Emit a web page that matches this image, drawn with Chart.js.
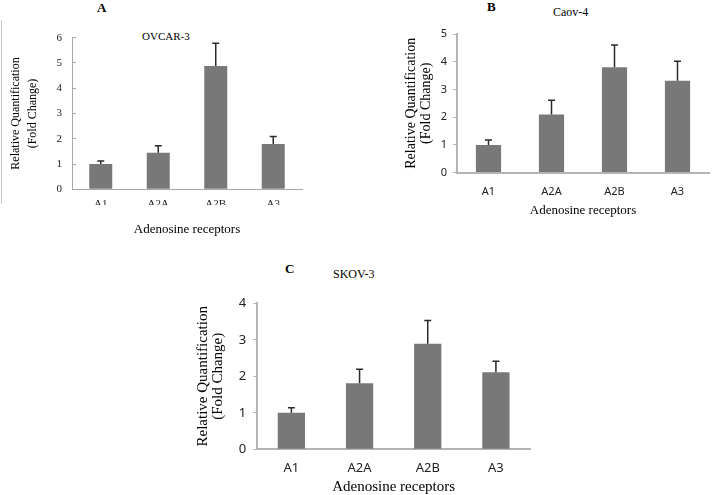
<!doctype html>
<html lang="en">
<head>
<meta charset="UTF-8" />
<title>Adenosine receptors expression</title>
<script src="https://cdn.jsdelivr.net/npm/chart.js"></script>
<style>
  body { margin: 0; background: #fff; width: 716px; height: 495px; position: relative; overflow: hidden; }
  canvas, .txt, .frame { position: absolute; }
  .txt { font-family: 'Liberation Serif', 'Times New Roman', serif; color: #000; white-space: nowrap; line-height: 1; }
  .letter { font-weight: bold; font-size: 13px; }
  .frame { left: 1px; top: 20px; height: 184px; border-left: 1px solid #c8c8c8; }
</style>
</head>
<body>
<div class="frame"></div>
<div class="txt letter" style="left:97px;top:1px">A</div>
<div class="txt letter" style="left:487px;top:0px">B</div>
<div class="txt letter" style="left:285px;top:262px">C</div>
<div class="txt" style="left:142px;top:31px;font-size:11px">OVCAR-3</div>
<div class="txt" style="left:553px;top:6px;font-size:12px">Caov-4</div>
<div class="txt" style="left:333px;top:268px;font-size:12px">SKOV-3</div>

<canvas id="chartA" width="320" height="245" style="left:0;top:0"></canvas>
<canvas id="chartB" width="356" height="225" style="left:360px;top:0"></canvas>
<canvas id="chartC" width="400" height="246" style="left:160px;top:250px"></canvas>

<script>
// data
const receptors = ['A1', 'A2A', 'A2B', 'A3']
const ovcarMeans = [1.0, 1.45, 4.88, 1.79]
const ovcarErrors = [0.12, 0.27, 0.9, 0.3]
const caovMeans = [0.99, 2.09, 3.8, 3.31]
const caovErrors = [0.18, 0.52, 0.8, 0.71]
const skovMeans = [1.0, 1.81, 2.89, 2.11]
const skovErrors = [0.14, 0.38, 0.64, 0.3]
const yTitle = ['Relative Quantification', '(Fold Change)']
const xTitle = 'Adenosine receptors'

const SERIF = "'Liberation Serif', 'Times New Roman', serif"
const SANS = "'Noto Sans', 'Liberation Sans', sans-serif"

// upper error bars with a cap
const errorBars = {
    id: 'errorBars',
    afterDatasetsDraw(chart) {
        const ctx = chart.ctx
        const y = chart.scales.y
        const ds = chart.data.datasets[0]
        ctx.save()
        ctx.strokeStyle = '#2a2a2a'
        ctx.lineWidth = 1.5
        chart.getDatasetMeta(0).data.forEach((bar, i) => {
            const top = y.getPixelForValue(ds.data[i] + ds.errors[i])
            ctx.beginPath()
            ctx.moveTo(bar.x, bar.y)
            ctx.lineTo(bar.x, top)
            ctx.moveTo(bar.x - 3.5, top)
            ctx.lineTo(bar.x + 3.5, top)
            ctx.stroke()
        })
        ctx.restore()
    },
}

// panel A of the original is cropped through its category labels
const clipBand = {
    id: 'clipBand',
    beforeDraw(chart, args, opts) {
        const { ctx, width, height } = chart
        ctx.save()
        ctx.beginPath()
        ctx.rect(0, 0, width, opts.from)
        ctx.rect(0, opts.to, width, height - opts.to)
        ctx.clip()
    },
    afterDraw(chart) {
        chart.ctx.restore()
    },
}

function makeChart(id, p) {
    return new Chart(document.getElementById(id), {
        type: 'bar',
        data: {
            labels: receptors,
            datasets: [
                {
                    data: p.means,
                    errors: p.errors,
                    backgroundColor: '#787878',
                    borderWidth: 0,
                    barPercentage: 0.4,
                    categoryPercentage: 1,
                },
            ],
        },
        plugins: p.plugins,
        options: {
            responsive: false,
            animation: false,
            layout: { padding: p.pad },
            plugins: {
                legend: { display: false },
                tooltip: { enabled: false },
                clipBand: p.clip || {},
            },
            scales: {
                x: {
                    grid: { display: false, drawTicks: false },
                    border: { color: p.axisColor, width: p.axisWidth },
                    ticks: { font: p.tickFont, color: '#222', padding: p.xTickPad },
                    title: {
                        display: true,
                        text: xTitle,
                        color: '#000',
                        font: p.xTitleFont,
                        padding: { top: 0, bottom: p.xTitlePad },
                    },
                    afterFit(s) {
                        s.height = p.xHeight
                    },
                },
                y: {
                    min: 0,
                    max: p.max,
                    ticks: { stepSize: 1, font: p.tickFont, color: '#222', padding: p.yTickPad },
                    grid: { drawOnChartArea: false, tickLength: p.tickLen, color: p.axisColor },
                    border: { color: p.axisColor, width: p.axisWidth },
                    title: {
                        display: true,
                        text: yTitle,
                        color: '#000',
                        font: p.yTitleFont,
                        padding: { top: p.yTitlePad, bottom: 0 },
                    },
                    afterFit(s) {
                        s.width = p.yWidth
                    },
                },
            },
        },
    })
}

makeChart('chartA', {
    means: ovcarMeans,
    errors: ovcarErrors,
    max: 6,
    plugins: [errorBars, clipBand],
    clip: { from: 205, to: 221 },
    pad: { left: 0, top: 37.7, right: 18, bottom: 0 },
    yWidth: 72,
    xHeight: 55.7,
    axisColor: '#a8a8a8',
    axisWidth: 1,
    tickLen: -4,
    tickFont: { family: SERIF, size: 11 },
    xTickPad: 8,
    yTickPad: 14,
    xTitleFont: { family: SERIF, size: 13, lineHeight: 1.2 },
    xTitlePad: 7.2,
    yTitleFont: { family: SERIF, size: 12, lineHeight: 1.4 },
    yTitlePad: 7.3,
})

makeChart('chartB', {
    means: caovMeans,
    errors: caovErrors,
    max: 5,
    plugins: [errorBars],
    pad: { left: 0, top: 34, right: 7, bottom: 0 },
    yWidth: 97,
    xHeight: 52.5,
    axisColor: '#b4b4b4',
    axisWidth: 2,
    tickLen: 4,
    tickFont: { family: SANS, size: 11 },
    xTickPad: 13,
    yTickPad: 6,
    xTitleFont: { family: SERIF, size: 13, lineHeight: 1.2 },
    xTitlePad: 6.5,
    yTitleFont: { family: SERIF, size: 14, lineHeight: 1.07 },
    yTitlePad: 44.2,
})

makeChart('chartC', {
    means: skovMeans,
    errors: skovErrors,
    max: 4,
    plugins: [errorBars],
    pad: { left: 0, top: 53.3, right: 30, bottom: 0 },
    yWidth: 97.3,
    xHeight: 46.7,
    axisColor: '#b4b4b4',
    axisWidth: 2,
    tickLen: 4,
    tickFont: { family: SANS, size: 13 },
    xTickPad: 11,
    yTickPad: 7,
    xTitleFont: { family: SERIF, size: 15, lineHeight: 1.2 },
    xTitlePad: 0,
    yTitleFont: { family: SERIF, size: 15, lineHeight: 1.0 },
    yTitlePad: 35.8,
})
</script>
</body>
</html>
